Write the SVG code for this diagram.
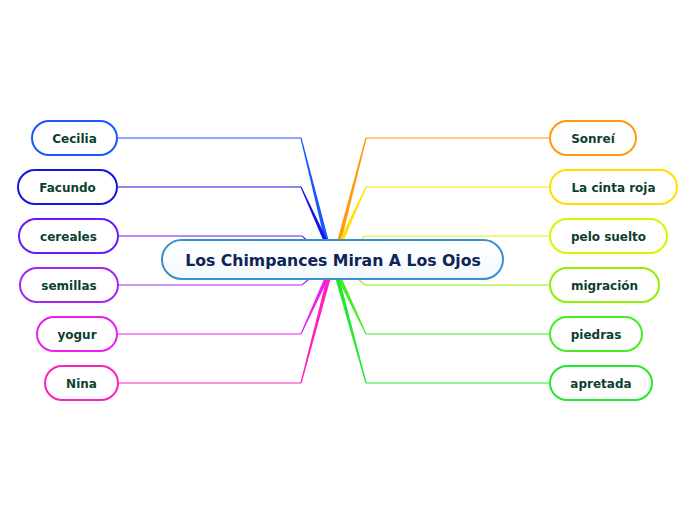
<svg xmlns="http://www.w3.org/2000/svg" width="696" height="520" viewBox="0 0 696 520">
<defs>
<style>
.n rect{fill:#fff;stroke-width:2}
.n text{font-family:"DejaVu Sans",Verdana,sans-serif;font-weight:bold;font-size:12px;fill:#0d3f30;text-anchor:middle}
.h{fill:none;stroke-width:1.2}
#center rect{fill:#fff;stroke:#3a8fd0;stroke-width:2}
#center text{font-family:"DejaVu Sans",Verdana,sans-serif;font-weight:bold;font-size:15.7px;fill:#0e2356;text-anchor:middle}
</style>
<linearGradient id="cg" x1="0" y1="0" x2="0" y2="1"><stop offset="0" stop-color="#ffffff"/><stop offset="1" stop-color="#f2f8fc"/></linearGradient>
</defs>
<rect width="696" height="520" fill="#fff"/>
<g id="connectors">
<polyline class="h" stroke="#1a56ff" points="118,138 301,138"/>
<polygon fill="#1a56ff" points="300.4,138.1 301.6,137.9 328.9,241.5 325.1,242.5"/>
<polyline class="h" stroke="#1515e0" points="118,187 301,187"/>
<polygon fill="#1515e0" points="300.5,187.2 301.5,186.8 327.8,241.2 324.2,242.8"/>
<polyline class="h" stroke="#6a1aff" points="118,236 302,236 309,242"/>
<polyline class="h" stroke="#a526f0" points="118,285 302,285 309,279"/>
<polyline class="h" stroke="#ee1ef0" points="118,334 301,334"/>
<polygon fill="#ee1ef0" points="301.5,334.2 300.5,333.8 325.2,276.2 328.8,277.8"/>
<polyline class="h" stroke="#ff1fbf" points="118,383 301,383"/>
<polygon fill="#ff1fbf" points="301.6,383.2 300.4,382.8 327.1,276.5 330.9,277.5"/>
<polyline class="h" stroke="#ff9a0a" points="549,138 366,138"/>
<polygon fill="#ff9a0a" points="366.6,138.2 365.4,137.8 337.1,241.5 340.9,242.5"/>
<polyline class="h" stroke="#ffe000" points="549,187 366,187"/>
<polygon fill="#ffe000" points="366.5,187.2 365.5,186.8 339.2,241.2 342.8,242.8"/>
<polyline class="h" stroke="#d8f500" points="549,236 365,236 358,242"/>
<polyline class="h" stroke="#90f000" points="549,285 365,285 358,279"/>
<polyline class="h" stroke="#44ee22" points="549,334 366,334"/>
<polygon fill="#44ee22" points="366.5,333.7 365.5,334.3 337.2,277.9 340.8,276.1"/>
<polyline class="h" stroke="#22e833" points="549,383 366,383"/>
<polygon fill="#22e833" points="366.6,382.8 365.4,383.2 335.1,277.5 338.9,276.5"/>
</g>
<g id="center"><rect x="162" y="240" width="341" height="39" rx="19.5" style="fill:url(#cg)"/><text x="333" y="265.5">Los Chimpances Miran A Los Ojos</text></g>
<g id="n-cecilia" class="n"><rect x="32" y="121" width="85" height="34" rx="17" stroke="#1a56ff"/><text x="74.5" y="142.5">Cecilia</text></g>
<g id="n-facundo" class="n"><rect x="18" y="170" width="99" height="34" rx="17" stroke="#1515e0"/><text x="67.5" y="191.5">Facundo</text></g>
<g id="n-cereales" class="n"><rect x="19" y="219" width="99" height="34" rx="17" stroke="#6a1aff"/><text x="68.5" y="240.5">cereales</text></g>
<g id="n-semillas" class="n"><rect x="20" y="268" width="98" height="34" rx="17" stroke="#a526f0"/><text x="69" y="289.5">semillas</text></g>
<g id="n-yogur" class="n"><rect x="37" y="317" width="80" height="34" rx="17" stroke="#ee1ef0"/><text x="77" y="338.5">yogur</text></g>
<g id="n-nina" class="n"><rect x="45" y="366" width="73" height="34" rx="17" stroke="#ff1fbf"/><text x="81.5" y="387.5">Nina</text></g>
<g id="n-sonrei" class="n"><rect x="550" y="121" width="86" height="34" rx="17" stroke="#ff9a0a"/><text x="593" y="142.5">Sonreí</text></g>
<g id="n-cinta" class="n"><rect x="550" y="170" width="127" height="34" rx="17" stroke="#ffe000"/><text x="613.5" y="191.5">La cinta roja</text></g>
<g id="n-pelo" class="n"><rect x="550" y="219" width="117" height="34" rx="17" stroke="#d8f500"/><text x="608.5" y="240.5">pelo suelto</text></g>
<g id="n-migracion" class="n"><rect x="550" y="268" width="109" height="34" rx="17" stroke="#90f000"/><text x="604.5" y="289.5">migración</text></g>
<g id="n-piedras" class="n"><rect x="550" y="317" width="92" height="34" rx="17" stroke="#44ee22"/><text x="596" y="338.5">piedras</text></g>
<g id="n-apretada" class="n"><rect x="550" y="366" width="102" height="34" rx="17" stroke="#22e833"/><text x="601" y="387.5">apretada</text></g>
</svg>
